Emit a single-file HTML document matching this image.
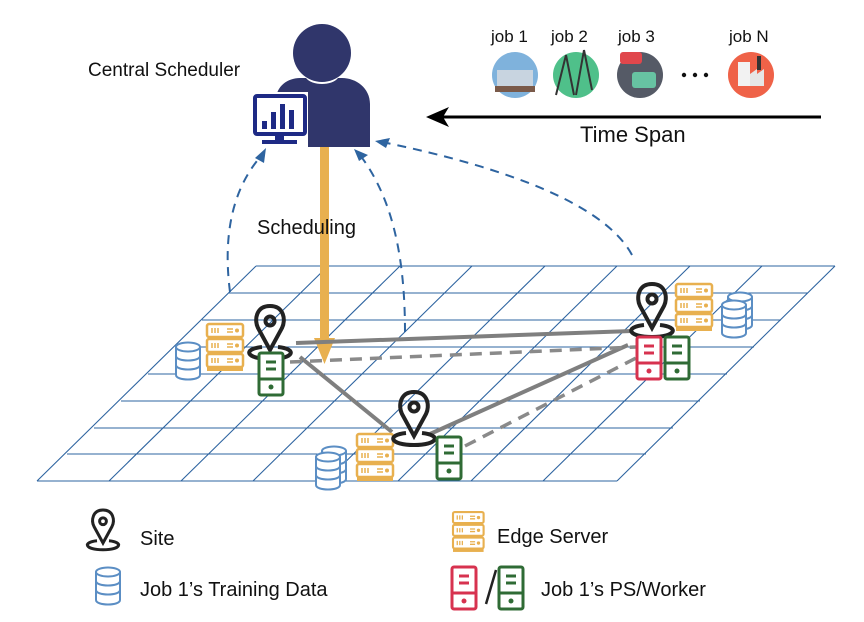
<!DOCTYPE html>
<html><head><meta charset="utf-8"><style>
body{margin:0;background:#fff}
svg{display:block}
text{font-family:"Liberation Sans",sans-serif;fill:#111}
</style></head><body>
<svg width="864" height="622" viewBox="0 0 864 622" xmlns="http://www.w3.org/2000/svg">
<defs>
<g id="srv">
 <rect x="0" y="0" width="36" height="13" rx="2" fill="#fff" stroke="#e8b04f" stroke-width="2.5"/>
 <rect x="0" y="15" width="36" height="13" rx="2" fill="#fff" stroke="#e8b04f" stroke-width="2.5"/>
 <rect x="0" y="30" width="36" height="13" rx="2" fill="#fff" stroke="#e8b04f" stroke-width="2.5"/>
 <rect x="0" y="43" width="36" height="4" fill="#e8b04f"/>
 <g stroke="#e8b04f" stroke-width="1.5">
 <path d="M5 4v5M8 4v5M11 4v5M5 19v5M8 19v5M11 19v5M5 34v5M8 34v5M11 34v5"/>
 <path d="M20 5h6M20 8h6M20 20h6M20 23h6M20 35h6M20 38h6"/>
 </g>
 <g fill="#e8b04f"><circle cx="30" cy="6.5" r="2"/><circle cx="30" cy="21.5" r="2"/><circle cx="30" cy="36.5" r="2"/></g>
</g>
<g id="db" fill="#fff" stroke="#5b8ec4" stroke-width="2">
 <path d="M0 5v28c0 6 24 6 24 0V5"/>
 <ellipse cx="12" cy="5" rx="12" ry="4.5"/>
 <path d="M0 14c0 6 24 6 24 0M0 23c0 6 24 6 24 0" fill="none"/>
</g>
<g id="wk">
 <rect x="0" y="0" width="24" height="42" rx="2" fill="#fff" stroke="currentColor" stroke-width="3"/>
 <path d="M0 26h24M7 9h10M7 16h10" stroke="currentColor" stroke-width="3"/>
 <circle cx="12" cy="34" r="2.5" fill="currentColor"/>
</g>
<g id="pin" fill="none" stroke="#222" stroke-width="4">
 <path d="M0 0c-14 0-16 14-12 22l12 22 12-22c4-8 2-22-12-22z"/>
 <circle cx="0" cy="15" r="4.5"/>
 <path d="M-8 41c-20 2-16 12 8 12s28-10 8-12"/>
</g>
</defs>

<!-- grid -->
<g stroke="#2e64a0" stroke-width="1.1" fill="none">
 <path d="M256 266H835M229 293H808M202 320H781M175 347H754M148 374H727M121 401H700M94 428H673M67 454H646M37 481H617"/>
 <path d="M256 266L37 481M328 266L109 481M400 266L181 481M472 266L253 481M545 266L326 481M617 266L398 481M690 266L471 481M762 266L543 481M835 266L617 481"/>
</g>

<!-- blue dashed curves -->
<g stroke="#2e64a0" stroke-width="2" fill="none" stroke-dasharray="9 7">
 <path d="M230 292C222 230 235 185 262 155"/>
 <path d="M405 332C405 250 390 195 360 155"/>
 <path d="M632 255C600 195 470 160 382 142"/>
</g>
<g fill="#2e64a0">
 <path d="M266 148l-2 15-9-5z"/>
 <path d="M354 149l14 6-9 6z"/>
 <path d="M375 141l15-3-4 10z"/>
</g>

<!-- orange arrow -->
<rect x="320" y="145" width="9" height="195" fill="#e8b04f"/>
<path d="M314 338h21l-10.5 26z" fill="#e8b04f"/>

<!-- gray links -->
<g stroke="#7f7f7f" stroke-width="4" fill="none">
 <path d="M296 343L632 331"/>
 <path d="M300 357L392 432"/>
 <path d="M430 434L628 345"/>
</g>
<g stroke="#8a8a8a" stroke-width="3.5" fill="none" stroke-dasharray="12 8">
 <path d="M290 362L636 347"/>
 <path d="M465 446L638 357"/>
</g>

<!-- site 1 -->
<use href="#db" x="176" y="342"/>
<use href="#srv" x="207" y="324"/>
<use href="#pin" x="270" y="306"/>
<use href="#wk" x="259" y="353" color="#2f6b35"/>
<!-- site 2 -->
<use href="#db" x="322" y="446"/>
<use href="#db" x="316" y="452"/>
<use href="#srv" x="357" y="434"/>
<use href="#pin" x="414" y="392"/>
<use href="#wk" x="437" y="437" color="#2f6b35"/>
<!-- site 3 -->
<use href="#db" x="728" y="292"/>
<use href="#db" x="722" y="300"/>
<use href="#srv" x="676" y="284"/>
<use href="#pin" x="652" y="284"/>
<use href="#wk" x="637" y="337" color="#d7324f"/>
<use href="#wk" x="665" y="337" color="#2f6b35"/>

<!-- scheduler -->
<circle cx="322" cy="53" r="29" fill="#30366b"/>
<path d="M276 147V100c0-14 12-22 24-22h6c6 8 26 8 32 0h4c14 0 28 10 28 26v43z" fill="#30366b"/>
<rect x="250" y="92" width="58" height="56" fill="#fff"/>
<rect x="255" y="96" width="50" height="38" rx="2" fill="#fff" stroke="#1e2a85" stroke-width="4"/>
<g fill="#1e2a85"><rect x="262" y="121" width="5" height="8"/><rect x="271" y="112" width="5" height="17"/><rect x="280" y="104" width="5" height="25"/><rect x="289" y="110" width="5" height="19"/>
<rect x="275" y="134" width="9" height="6"/><rect x="262" y="140" width="35" height="4"/></g>
<text x="88" y="76" font-size="19">Central Scheduler</text>
<text x="257" y="234" font-size="20">Scheduling</text>

<!-- jobs -->
<text x="491" y="42" font-size="17">job 1</text>
<text x="551" y="42" font-size="17">job 2</text>
<text x="618" y="42" font-size="17">job 3</text>
<text x="729" y="42" font-size="17">job N</text>
<circle cx="515" cy="75" r="23" fill="#7fb2dc"/>
<rect x="497" y="70" width="36" height="16" fill="#c8d4e0"/><rect x="495" y="86" width="40" height="6" fill="#7a5a4a"/>
<circle cx="576" cy="75" r="23" fill="#4fc08a"/>
<path d="M566 55l-10 40M566 55l8 40M584 50l-8 45M584 50l8 40" stroke="#333" stroke-width="2"/>
<circle cx="640" cy="75" r="23" fill="#555a66"/>
<rect x="620" y="52" width="22" height="12" rx="3" fill="#e0474c"/><rect x="632" y="72" width="24" height="16" rx="3" fill="#67c3a2"/>
<circle cx="751" cy="75" r="23" fill="#ef6248"/>
<rect x="738" y="62" width="12" height="24" fill="#f2f2f2"/><path d="M750 86V74l7-5v5l7-5v17z" fill="#e6e6e6"/><rect x="757" y="56" width="4" height="14" fill="#333"/>
<g fill="#111"><circle cx="684" cy="75" r="2.2"/><circle cx="695" cy="75" r="2.2"/><circle cx="706" cy="75" r="2.2"/></g>
<path d="M821 117H440" stroke="#000" stroke-width="3"/>
<path d="M426 117l23-10-6 10 6 10z" fill="#000"/>
<text x="580" y="142" font-size="22">Time Span</text>

<!-- legend -->
<g transform="translate(103,510) scale(0.75)"><use href="#pin" x="0" y="0"/></g>
<text x="140" y="545" font-size="20">Site</text>
<g transform="translate(96,567) scale(1)"><use href="#db"/></g>
<text x="140" y="596" font-size="20">Job 1’s Training Data</text>
<g transform="translate(453,512) scale(0.85)"><use href="#srv"/></g>
<text x="497" y="543" font-size="20">Edge Server</text>
<use href="#wk" x="452" y="567" color="#d7324f"/>
<path d="M486 604L496 570" stroke="#222" stroke-width="2.5"/>
<use href="#wk" x="499" y="567" color="#2f6b35"/>
<text x="541" y="596" font-size="20">Job 1’s PS/Worker</text>
</svg>
</body></html>
